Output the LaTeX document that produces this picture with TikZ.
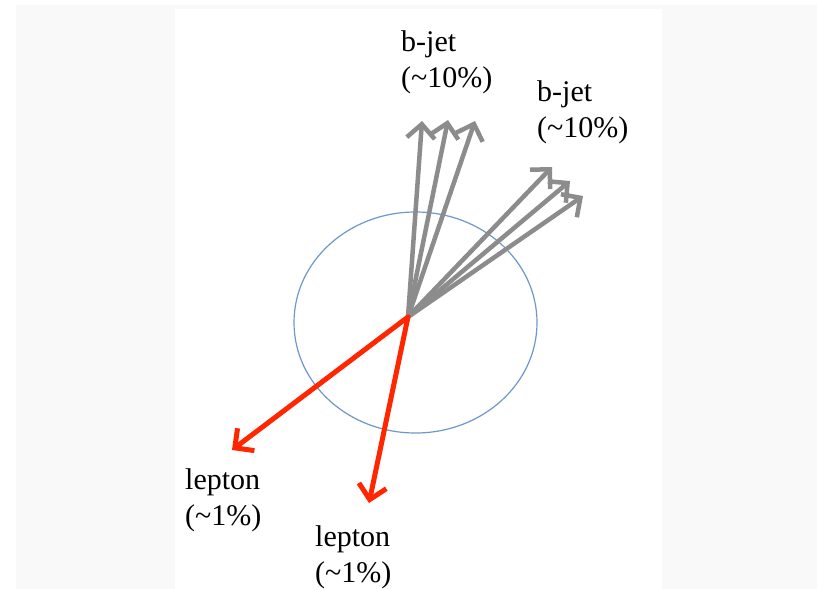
\documentclass[tikz,border=0pt]{standalone}
\usepackage{fontspec}
\setmainfont{Liberation Serif}
\usetikzlibrary{arrows.meta}
\definecolor{jetgray}{RGB}{140,140,140}
\definecolor{leptred}{RGB}{255,38,0}
\definecolor{conecirc}{RGB}{108,152,204}
\definecolor{pagegray}{RGB}{249,249,249}

\begin{document}
\begin{tikzpicture}[x=1pt,y=-1pt,line cap=round,line join=round,
  >={Straight Barb[length=14pt,width=28pt]},
  lbl/.style={anchor=north west,align=left,inner sep=0pt,
    font=\fontsize{30}{36}\selectfont}]
  % ---- page and white panel ----
  \useasboundingbox (0,0) rectangle (817,589);
  \fill[pagegray] (16,5) rectangle (817,589);
  \fill[white] (175,9) rectangle (662,589);
  % ---- cone (ellipse) round the vertex ----
  \draw[conecirc,line width=1.2pt] (415.5,322.5) ellipse [x radius=121.5,y radius=110.5];
  \coordinate (vtx) at (408,317);
  % ---- b-jet arrows ----
  \foreach \n/\x/\y in {a/422/121,b/448/120,c/475/121,d/552/167,e/570/181,f/583/196}{
    \coordinate (jet\n) at (\x,\y);
    \draw[->,jetgray,line width=4.5pt] (vtx) -- (jet\n);}
  % ---- lepton arrows ----
  \coordinate (lepa) at (232,450);
  \coordinate (lepb) at (369,503);
  \draw[->,leptred,line width=5pt] (vtx) -- (lepa);
  \draw[->,leptred,line width=5pt] (vtx) -- (lepb);
  % ---- labels ----
  \node[lbl] (bjetup) at (401,30) {b-jet\\(\textasciitilde10\%)};
  \node[lbl] (bjetside) at (537,80) {b-jet\\(\textasciitilde10\%)};
  \node[lbl] (leptleft) at (185,468) {lepton\\(\textasciitilde1\%)};
  \node[lbl] (leptdown) at (315,525) {lepton\\(\textasciitilde1\%)};
\end{tikzpicture}
\end{document}
